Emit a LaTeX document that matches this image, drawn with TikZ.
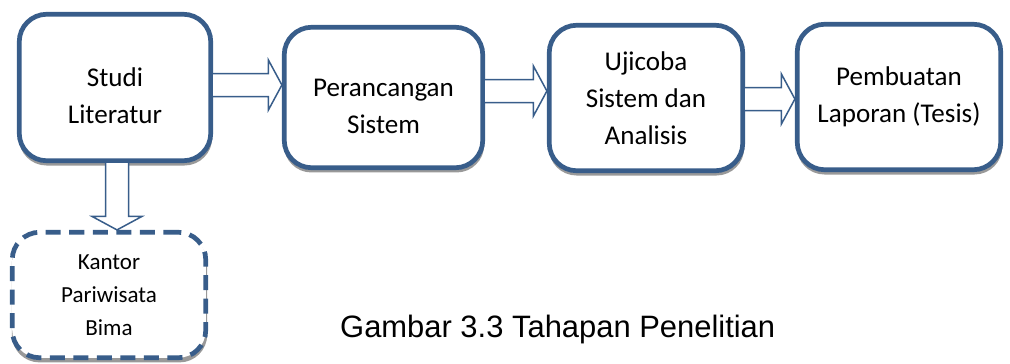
\documentclass[tikz,border=0pt]{standalone}
\usepackage{fontspec}
\setmainfont{Carlito}
\newfontfamily\captionfont{Liberation Sans}
\usetikzlibrary{calc, shadows}
\definecolor{stageblue}{RGB}{56,93,138}
\newcommand{\lowtext}[1]{\raisebox{-0.2cm}[\height][\depth]{\begin{tabular}{@{}c@{}}#1\end{tabular}}}

\begin{document}
\begin{tikzpicture}
        [stage/.style={rectangle, rounded corners=0.55cm, draw=stageblue, line width=0.094cm,
           fill=white, align=center, font=\fontsize{15.4}{21}\selectfont,
           drop shadow={shadow xshift=0.01cm, shadow yshift=-0.08cm, shadow scale=1.01,
             fill=black!40, opacity=1}},
        dashstage/.style={stage, dash pattern=on 0.3cm off 0.17cm,
           font=\fontsize{13.1}{18.8}\selectfont},
        blockarr/.style={draw=stageblue, line width=0.03cm, fill=white, line join=miter,
           to path={($(\tikztostart)!0.23cm!90:(\tikztotarget)$)
             -- ($(\tikztotarget)!0.27cm!(\tikztostart)!0.23cm!90:(\tikztotarget)$)
             -- ($(\tikztotarget)!0.27cm!(\tikztostart)!0.5cm!90:(\tikztotarget)$)
             -- (\tikztotarget)
             -- ($(\tikztotarget)!0.27cm!(\tikztostart)!0.5cm!-90:(\tikztotarget)$)
             -- ($(\tikztotarget)!0.27cm!(\tikztostart)!0.23cm!-90:(\tikztotarget)$)
             -- ($(\tikztostart)!0.23cm!-90:(\tikztotarget)$)}}]
        \useasboundingbox (0,0) rectangle (20.2,7.26);
        \node (studi) at (2.30, 5.51) [stage, minimum width=3.83cm, minimum height=2.93cm]
           {\lowtext{Studi\\Literatur}};
        \node (rancang) at (7.67, 5.31) [stage, minimum width=3.97cm, minimum height=2.81cm]
           {\lowtext{Perancangan\\Sistem}};
        \node (uji) at (12.92, 5.30) [stage, minimum width=3.87cm, minimum height=2.91cm]
           {Ujicoba\\Sistem dan\\Analisis};
        \node (laporan) at (17.98, 5.32) [stage, minimum width=4.07cm, minimum height=2.91cm]
           {Pembuatan\\Laporan (Tesis)};
        \node (kantor) at (2.18, 1.36) [dashstage, minimum width=3.87cm, minimum height=2.51cm]
           {Kantor\\Pariwisata\\Bima};
        \node (caption) at (6.68, 0.52) [anchor=base west, font=\captionfont\fontsize{17.6}{21}\selectfont]
           {Gambar 3.3 Tahapan Penelitian};
        % block arrows between the stages
        \draw[blockarr] ([yshift=0.05cm]studi.east) coordinate (a1) to (rancang.west |- a1);
        \draw[blockarr] ([yshift=0.13cm]rancang.east) coordinate (a2) to (uji.west |- a2);
        \draw[blockarr] ([yshift=-0.02cm]uji.east) coordinate (a3) to (laporan.west |- a3);
        \draw[blockarr] ([xshift=0.04cm]studi.south) coordinate (a4) to (kantor.north -| a4);
     \end{tikzpicture}
\end{document}
